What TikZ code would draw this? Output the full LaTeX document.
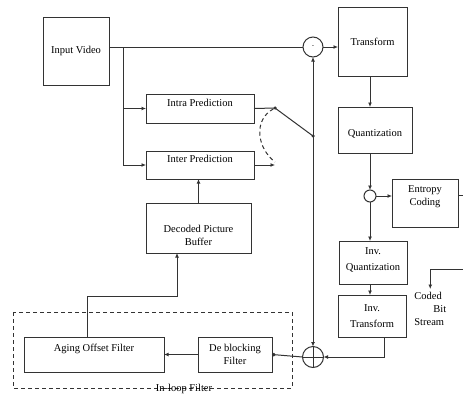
\documentclass[tikz,border=0pt]{standalone}
\usepackage{fontspec}
\setmainfont{Liberation Serif}
\usetikzlibrary{arrows.meta,positioning,calc}

\begin{document}
\begin{tikzpicture}[x=1pt, y=-1pt, outer sep=0pt, line width=1pt, color=black!80,
    font=\fontsize{10.5}{13}\selectfont,
    blk/.style={rectangle, draw, inner sep=2pt, align=center, text=black},
    arr/.style={-{Latex[length=4.5pt,width=4pt]}},
    sumnode/.style={circle, draw, inner sep=0pt},
    dot/.style={circle, fill, inner sep=0pt, minimum size=3.5pt}]
    \useasboundingbox (0,0) rectangle (463,394);

    \node (input) [blk, minimum width=66pt, minimum height=68pt] at (76,51) {Input Video};
    \node (intra) [blk, minimum width=108pt, minimum height=29pt, label={[anchor=center, text=black, yshift=6pt]center:Intra Prediction}] at (200,108.5) {};
    \node (inter) [blk, minimum width=108pt, minimum height=28pt, label={[anchor=center, text=black, yshift=6pt]center:Inter Prediction}] at (200,165) {};
    \node (dpb) [blk, minimum width=105pt, minimum height=50pt, label={[anchor=center, text=black, align=center, yshift=-7pt]center:Decoded Picture\\Buffer}] at (198.5,228) {};
    \node (transform) [blk, minimum width=69pt, minimum height=69pt] at (372.5,41.5) {Transform};
    \node (quant) [blk, minimum width=74pt, minimum height=46pt, label={[anchor=center, text=black, yshift=-4pt]center:Quantization}] at (375,130) {};
    \node (entropy) [blk, minimum width=66pt, minimum height=48pt, label={[anchor=center, text=black, align=center, yshift=6pt]center:Entropy\\Coding}] at (425,203) {};
    \node (invq) [blk, minimum width=68pt, minimum height=43pt, label={[anchor=center, text=black, align=center, yshift=3pt]center:Inv.\\[3pt]Quantization}] at (373,262.5) {};
    \node (invt) [blk, minimum width=68pt, minimum height=42pt] at (372,316) {Inv.\\[3pt]Transform};
    \node (aging) [blk, minimum width=140pt, minimum height=35pt, label={[anchor=center, text=black, yshift=6pt]center:Aging Offset Filter}] at (94,354.5) {};
    \node (deblock) [blk, minimum width=74pt, minimum height=35pt] at (235,354.5) {De blocking\\Filter};

    \node (minus) [sumnode, minimum size=20pt] at (313,47) {\scriptsize -};
    \node (sc) [sumnode, minimum size=12pt] at (370,196) {};
    \node (plus) [sumnode, minimum size=21pt] at (313,357) {};
    \draw (plus.north) -- (plus.south) (plus.west) -- (plus.east);

    \coordinate (br) at (123,47);
    \node (s1) [dot] at (275,108) {};
    \node (sw) [dot] at (313,136) {};
    \coordinate (bsout) at (466,195);
    \coordinate (bsin) at (466,269);
    \node (cbs) [align=left, anchor=north west, text=black] at (411,289) {Coded\\\hspace{19pt}Bit\\Stream};

    \draw (input.east |- minus) -- (minus.west);
    \draw[arr] (br) |- (intra.west);
    \draw[arr] (br) |- (inter.west);
    \draw[arr] (minus.east) -- (transform.west |- minus);
    \draw[arr] (transform.south -| sc) -- (quant.north -| sc);
    \draw[arr] (quant.south -| sc) -- (sc.north);
    \draw[arr] (sc.east) -- (entropy.west |- sc);
    \draw (entropy.east |- bsout) -- (bsout);
    \draw[arr] (bsin) -| (cbs.north);
    \draw[arr] (sc.south) -- (invq.north -| sc);
    \draw[arr] (invq.south -| sc) -- (invt.north -| sc);
    \draw[arr] ([xshift=12pt]invt.south) |- (plus.east);
    \draw (intra.east) -- (s1.center) -- (sw.center);
    \draw[arr] (inter.east) -- (inter.east -| s1);
    \draw[dash pattern=on 4pt off 3pt] (s1) .. controls +(-22,12) and +(-18,-14) .. ([yshift=3pt]inter.east -| s1);
    \draw[arr] (sw.center) -- (minus.south);
    \draw[arr] (sw.center) -- (plus.north);
    \draw[-{Circle[length=3.5pt]}] (plus.west) -- (deblock.east);
    \draw[arr] (deblock.west) -- (aging.east);
    \draw[arr] ([xshift=-7pt]aging.north) |- ++(0,-41) -| ([xshift=-21.5pt]dpb.south);
    \draw[arr] (dpb.north) -- (dpb.north |- inter.south);

    \draw[dash pattern=on 4pt off 3pt, line width=0.8pt] (13,312) rectangle (292,388);
    \node (looplbl) [text=black] at (184,388.5) {In-loop Filter};
\end{tikzpicture}
\end{document}
